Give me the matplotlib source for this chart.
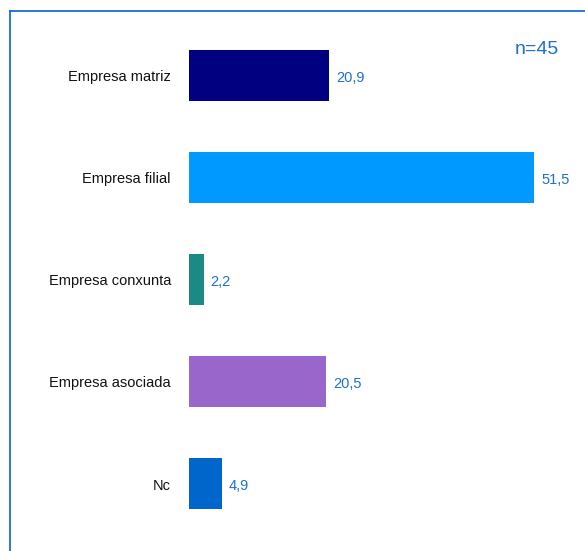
import matplotlib
matplotlib.use("Agg")
import matplotlib.pyplot as plt
from matplotlib.lines import Line2D

plt.rcParams['font.family'] = ['Liberation Sans', 'DejaVu Sans']

# datos
categorias = ['Empresa matriz', 'Empresa filial', 'Empresa conxunta', 'Empresa asociada', 'Nc']
valores = [20.9, 51.5, 2.2, 20.5, 4.9]
colores = ['#000080', '#0099FF', '#1A8A85', '#9966CC', '#0066CC']
etiqueta_n = 'n=45'

W, H = 585, 551
fig = plt.figure(figsize=(W / 100, H / 100), dpi=100)

# ejes colocados en pixeles: barra de 0 en x=189, 51,5 en x=534
x0, x1 = 189, 534
y_top, y_bot = 24.5, 534.5
ax = fig.add_axes([x0 / W, 1 - y_bot / H, (x1 - x0) / W, (y_bot - y_top) / H])
ax.set_xlim(0, 51.5)
ax.set_ylim(len(categorias) - 0.5, -0.5)
ax.axis('off')

pos = range(len(categorias))
ax.barh(pos, valores, height=0.5, color=colores, clip_on=False)

for i, (cat, v) in enumerate(zip(categorias, valores)):
    ax.annotate(cat, xy=(0, i), xytext=(-18, -2), textcoords='offset pixels',
                ha='right', va='center', fontsize=10.5, color='#111111')
    ax.annotate(f"{v:.1f}".replace('.', ','), xy=(v, i), xytext=(7, -2),
                textcoords='offset pixels', ha='left', va='center',
                fontsize=10.5, color='#1F6FD0')

fig.text(559 / W, 1 - 50 / H, etiqueta_n, ha='right', va='center',
         fontsize=14, color='#1F6FD0')

# marco azul (arriba e izquierda)
fig.add_artist(Line2D([9.5 / W, 1], [1 - 11 / H, 1 - 11 / H], color='#0066CC', lw=1.2))
fig.add_artist(Line2D([9.5 / W, 9.5 / W], [0, 1 - 11 / H], color='#0066CC', lw=1.2))

fig.savefig('out.png', dpi=100)
